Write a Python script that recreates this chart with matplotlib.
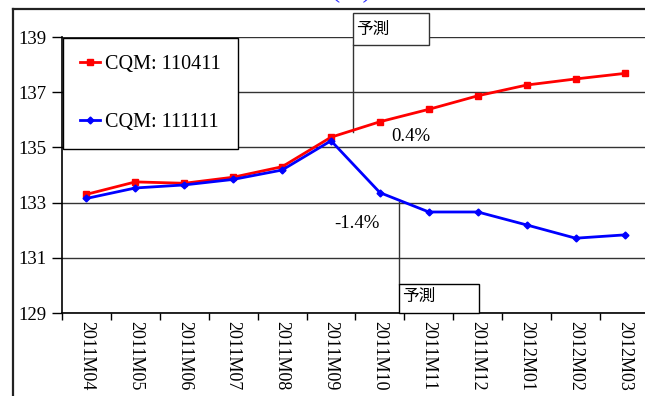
import matplotlib
matplotlib.use('Agg')
import matplotlib.pyplot as plt
from matplotlib.lines import Line2D
from matplotlib.patches import Rectangle

months = ['2011M04', '2011M05', '2011M06', '2011M07', '2011M08', '2011M09',
          '2011M10', '2011M11', '2011M12', '2012M01', '2012M02', '2012M03']
cqm_110411 = [133.30, 133.75, 133.70, 133.92, 134.30, 135.37,
              135.93, 136.38, 136.87, 137.26, 137.48, 137.68]
cqm_111111 = [133.15, 133.53, 133.64, 133.84, 134.18, 135.24,
              133.36, 132.66, 132.66, 132.19, 131.71, 131.83]
labels = ['CQM: 110411', 'CQM: 111111']
forecast_label = '予測'
change_red = '0.4%'
change_blue = '-1.4%'

serif = 'Liberation Serif'
cjk = ['Noto Sans CJK JP', 'DejaVu Sans']

fig = plt.figure(figsize=(6.45, 3.96), dpi=100)
W, H = 645, 396
ax = fig.add_axes([62 / W, (H - 313) / H, 587 / W, 276 / H])

x = list(range(len(months)))
ax.plot(x, cqm_110411, color='#ff0000', lw=2.0, marker='s', ms=5,
        label=labels[0], zorder=4)
ax.plot(x, cqm_111111, color='#0000ff', lw=2.0, marker='D', ms=3.5,
        label=labels[1], zorder=4)

ax.set_xlim(-0.5, 11.5)
ax.set_ylim(129, 139)
ax.set_yticks([129, 131, 133, 135, 137, 139])
ax.grid(axis='y', color='#333333', lw=1.0)
ax.set_axisbelow(True)

# boundary ticks between months, labels centred on each month
ax.set_xticks([i - 0.5 for i in range(13)])
ax.set_xticklabels([])
ax.set_xticks(x, minor=True)
ax.set_xticklabels(months, minor=True, rotation=270, fontfamily=serif,
                   fontsize=13)
ax.tick_params(axis='x', which='major', direction='out', length=5, width=1)
ax.tick_params(axis='x', which='minor', length=0, pad=6)
ax.tick_params(axis='y', direction='out', length=7, width=1, pad=4)
for t in ax.get_yticklabels():
    t.set_fontfamily(serif)
    t.set_fontsize(13.5)

for s in ['top', 'right']:
    ax.spines[s].set_visible(False)
ax.spines['left'].set_linewidth(1.2)
ax.spines['bottom'].set_linewidth(1.2)

# forecast markers
ax.add_line(Line2D([5.45, 5.45], [138.71, 135.56], color='#333333', lw=1,
                   clip_on=False))
ax.add_patch(Rectangle((5.45, 138.71), 1.55, 1.16, fill=True, fc='white',
                       ec='#333333', lw=1, clip_on=False, zorder=5))
ax.text(5.52, 139.29, forecast_label, family=cjk, fontsize=12,
        va='center', ha='left', zorder=6)

ax.add_line(Line2D([6.39, 6.39], [133.02, 130.05], color='#333333', lw=1,
                   clip_on=False))
ax.add_patch(Rectangle((6.39, 129.0), 1.64, 1.05, fill=True, fc='white',
                       ec='black', lw=1, clip_on=False, zorder=5))
ax.text(6.46, 129.6, forecast_label, family=cjk, fontsize=12,
        va='center', ha='left', zorder=6)

ax.text(6.64, 135.38, change_red, fontfamily=serif, fontsize=13.5,
        ha='center', va='center')
ax.text(5.53, 132.26, change_blue, fontfamily=serif, fontsize=13.5,
        ha='center', va='center')

leg = ax.legend(loc='upper left', bbox_to_anchor=(63 / W, 1 - 38 / H),
                bbox_transform=fig.transFigure, borderaxespad=0,
                prop={'family': serif, 'size': 14.5}, frameon=True,
                fancybox=False, edgecolor='black', framealpha=1,
                borderpad=0.85, handlelength=1.0, handletextpad=0.25,
                labelspacing=1.9)
leg.get_frame().set_linewidth(1.0)
leg.set_zorder(6)

# outer chart frame
fig.add_artist(Line2D([13 / W, 13 / W], [1 - 9 / H, 0], color='#222222',
                      lw=1.6, transform=fig.transFigure))
fig.add_artist(Line2D([13 / W, 1], [1 - 9 / H, 1 - 9 / H], color='#222222',
                      lw=1.6, transform=fig.transFigure))

# chart title sits above the frame, only its lowest strokes show
fig.text(352 / W, 1 + 3 / H, '(%)', color='#3333ff', fontfamily=serif,
         fontsize=20, ha='center', va='baseline')

fig.savefig('out.png', dpi=100)
